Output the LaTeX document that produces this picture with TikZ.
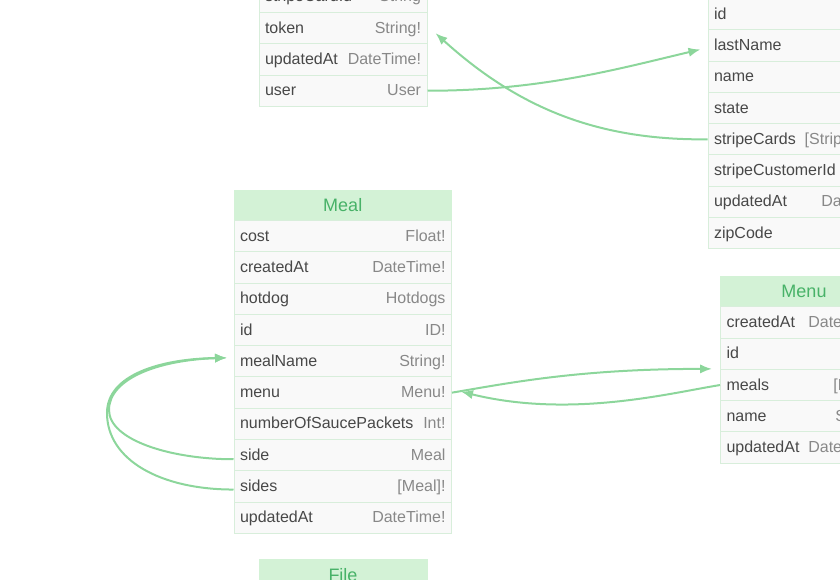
\documentclass[tikz,border=0pt]{standalone}
\usepackage{fontspec}
\setmainfont{Liberation Sans}
\usetikzlibrary{arrows.meta,calc}

\definecolor{headfill}{RGB}{211,242,214}
\definecolor{headtext}{RGB}{72,178,104}
\definecolor{rowfill}{RGB}{249,249,249}
\definecolor{rowline}{RGB}{216,238,219}
\definecolor{fieldcol}{RGB}{72,72,72}
\definecolor{typecol}{RGB}{136,136,136}
\definecolor{linkcol}{RGB}{140,214,155}

\tikzset{every picture/.style={line width=0.75pt}}
\tikzset{
  rowbox/.style={draw=rowline, fill=rowfill, minimum height=23.475pt, inner sep=0pt},
  headbox/.style={draw=headfill, fill=headfill, text=headtext, minimum height=22.5pt, inner sep=0pt, font=\fontsize{13.5}{16}\selectfont},
  fieldtxt/.style={anchor=base west, inner sep=0pt, text=fieldcol, font=\fontsize{12}{14}\selectfont},
  typetxt/.style={anchor=base east, inner sep=0pt, text=typecol, font=\fontsize{12}{14}\selectfont},
  relline/.style={draw=linkcol, line width=1.5pt, -{Latex[length=9pt,width=7pt]}}
}

% name, left x, top y, width, field, type
\newcommand{\fieldrow}[6]{%
  \node[rowbox, minimum width=#4*0.75pt, anchor=north west] (#1) at (#2,#3) {};
  \node[fieldtxt] (#1-f) at ($(#1.west)+(6,5)$) {#5};
  \node[typetxt] (#1-t) at ($(#1.east)+(-6,5)$) {#6};
}
% name, left x, top y, width, title
\newcommand{\tablehead}[5]{%
  \node[headbox, minimum width=#4*0.75pt, anchor=north west] (#1) at (#2,#3) {#5};
}

\begin{document}
\begin{tikzpicture}[x=0.75pt,y=0.75pt,yscale=-1,xscale=1]
	\useasboundingbox (0,0) rectangle (840,580);
	\clip (0,0) rectangle (840,580);

	%Table: card (top left)
	\fieldrow{card-stripeCardId}{258.5}{-19.3}{168}{stripeCardId}{String}
	\fieldrow{card-token}{258.5}{12}{168}{token}{String!}
	\fieldrow{card-updatedAt}{258.5}{43.3}{168}{updatedAt}{DateTime!}
	\fieldrow{card-user}{258.5}{74.6}{168}{user}{User}

	%Table: User (top right)
	\fieldrow{user-id}{707.5}{-2}{192.5}{id}{}
	\fieldrow{user-lastName}{707.5}{29.3}{192.5}{lastName}{}
	\fieldrow{user-name}{707.5}{60.6}{192.5}{name}{}
	\fieldrow{user-state}{707.5}{91.9}{192.5}{state}{}
	\fieldrow{user-stripeCards}{707.5}{123.2}{192.5}{stripeCards}{[StripeCard]!}
	\fieldrow{user-stripeCustomerId}{707.5}{154.5}{192.5}{stripeCustomerId}{}
	\fieldrow{user-updatedAt}{707.5}{185.8}{192.5}{updatedAt}{DateTime!}
	\fieldrow{user-zipCode}{707.5}{217.1}{192.5}{zipCode}{}

	%Table: Meal
	\tablehead{meal}{233.5}{190}{217.5}{Meal}
	\fieldrow{meal-cost}{233.5}{220}{217.5}{cost}{Float!}
	\fieldrow{meal-createdAt}{233.5}{251.3}{217.5}{createdAt}{DateTime!}
	\fieldrow{meal-hotdog}{233.5}{282.6}{217.5}{hotdog}{Hotdogs}
	\fieldrow{meal-id}{233.5}{313.9}{217.5}{id}{ID!}
	\fieldrow{meal-mealName}{233.5}{345.2}{217.5}{mealName}{String!}
	\fieldrow{meal-menu}{233.5}{376.5}{217.5}{menu}{Menu!}
	\fieldrow{meal-sauce}{233.5}{407.8}{217.5}{numberOfSaucePackets}{Int!}
	\fieldrow{meal-side}{233.5}{439.1}{217.5}{side}{Meal}
	\fieldrow{meal-sides}{233.5}{470.4}{217.5}{sides}{[Meal]!}
	\fieldrow{meal-updatedAt}{233.5}{501.7}{217.5}{updatedAt}{DateTime!}

	%Table: Menu
	\tablehead{menu}{720}{276.3}{167}{Menu}
	\fieldrow{menu-createdAt}{720}{306.3}{167}{createdAt}{DateTime!}
	\fieldrow{menu-id}{720}{337.6}{167}{id}{}
	\fieldrow{menu-meals}{720}{368.9}{167}{meals}{[Meal]!}
	\fieldrow{menu-name}{720}{400.2}{167}{name}{String!}
	\fieldrow{menu-updatedAt}{720}{431.5}{167}{updatedAt}{DateTime!}

	%Table: File (bottom)
	\tablehead{file}{258.5}{559.5}{168}{File}

	% Connectors
	\draw[relline] (card-user.east) .. controls +(114,0) and +(-81,19) .. ($(user-lastName.west)+(-7,4)$);
	\draw[relline] (user-stripeCards.west) .. controls +(-107,1) and +(85,77) .. ($(card-token.east)+(8,5)$);
	\draw[relline] (menu-meals.west) .. controls +(-50,8) and +(110,27) .. ($(meal-menu.east)+(9,-1)$);
	\draw[relline] (meal-menu.east) .. controls +(59,-10) and +(-132,0) .. ($(menu-meals.north west)+(-8,0)$);
	% self links on Meal
	\draw[relline] ($(meal-side.west)+(0,4)$) .. controls +(-63,0) and +(0,30) .. (109,410) .. controls +(0,-32) and +(-67,2) .. ($(meal-mealName.west)+(-6.5,-3.5)$);
	\draw[relline] ($(meal-sides.west)+(0,3)$) .. controls +(-73,0) and +(0,47) .. (107,413) .. controls +(0,-38) and +(-67,1) .. ($(meal-mealName.west)+(-6.5,-3.5)$);

\end{tikzpicture}
\end{document}
